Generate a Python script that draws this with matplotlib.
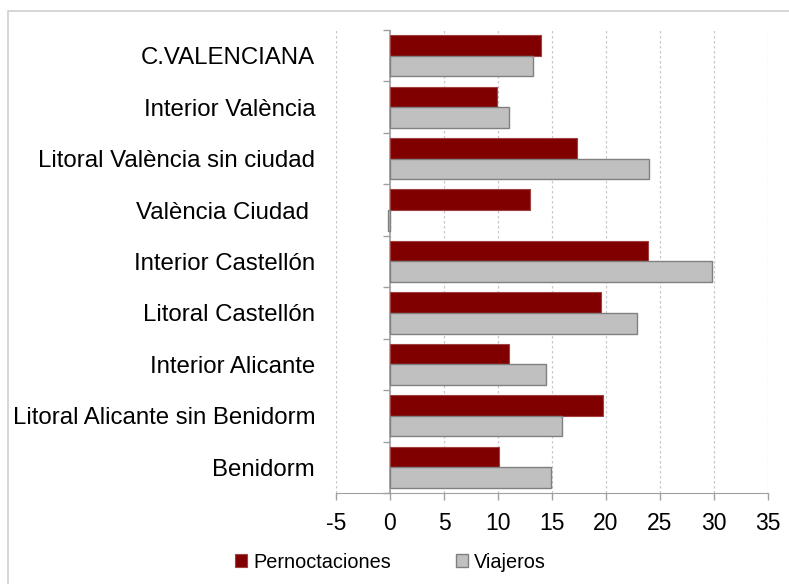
import matplotlib.pyplot as plt
from matplotlib.patches import Rectangle
from matplotlib.lines import TICKLEFT

plt.rcParams['font.family'] = ['Liberation Sans', 'DejaVu Sans']

## data, top to bottom as in the chart
categories = ['C.VALENCIANA', 'Interior València', 'Litoral València sin ciudad',
              'València Ciudad ', 'Interior Castellón', 'Litoral Castellón',
              'Interior Alicante', 'Litoral Alicante sin Benidorm', 'Benidorm']
pernoctaciones = [14.0, 9.9, 17.3, 13.0, 23.9, 19.5, 11.0, 19.7, 10.1]
viajeros = [13.2, 11.0, 24.0, -0.2, 29.8, 22.9, 14.4, 15.9, 14.9]
xticks = [-5, 0, 5, 10, 15, 20, 25, 30, 35]

fig = plt.figure(figsize=(7.89, 5.84), dpi=100)
# chart border (cut off on the right and bottom)
fig.patches.append(Rectangle((8/789, -0.1), 1.2, 1 - 11/584 + 0.1, transform=fig.transFigure,
                             fill=False, edgecolor='#D0D0D0', linewidth=1.2))

ax = fig.add_axes([336/789, 1 - 493/584, 432/789, 463/584])

pos = list(range(len(categories)))
h = 0.4
ax.barh([p - h/2 for p in pos], pernoctaciones, height=h, color='#800000',
        edgecolor='#A04040', linewidth=0.8, label='Pernoctaciones', zorder=3)
ax.barh([p + h/2 for p in pos], viajeros, height=h, color='#C0C0C0',
        edgecolor='#808080', linewidth=1.0, label='Viajeros', zorder=3)

ax.set_xlim(-5, 35)
ax.set_ylim(len(categories) - 0.5, -0.5)
ax.set_xticks(xticks)
ax.set_xticklabels([str(t) for t in xticks], fontsize=16.5)
ax.set_yticks(pos)
ax.set_yticklabels(categories, fontsize=17.3)
ax.tick_params(axis='y', length=0, pad=15)
ax.tick_params(axis='x', length=5, width=1, color='#A0A0A0', pad=9)

for s in ['left', 'top', 'right']:
    ax.spines[s].set_visible(False)
ax.spines['bottom'].set_color('#A0A0A0')

ax.grid(axis='x', color='#C8C8C8', linestyle=(0, (2, 2)), linewidth=0.9, zorder=0)
ax.set_axisbelow(True)

# vertical axis at zero with category ticks
ax.axvline(0, color='#A0A0A0', linewidth=1.2, zorder=2)
bounds = [p - 0.5 for p in pos] + [len(categories) - 0.5]
ax.plot([0]*len(bounds), bounds, linestyle='none', marker=TICKLEFT, markersize=5,
        markeredgewidth=1.0, color='#A0A0A0', zorder=2, clip_on=False)

fig.legend(loc='center', bbox_to_anchor=(0.495, 1 - 562/584), ncol=2, frameon=False,
           fontsize=14.3, handlelength=0.6, handleheight=0.6, handletextpad=0.3,
           columnspacing=3.3)

fig.savefig('out.png', dpi=100)
